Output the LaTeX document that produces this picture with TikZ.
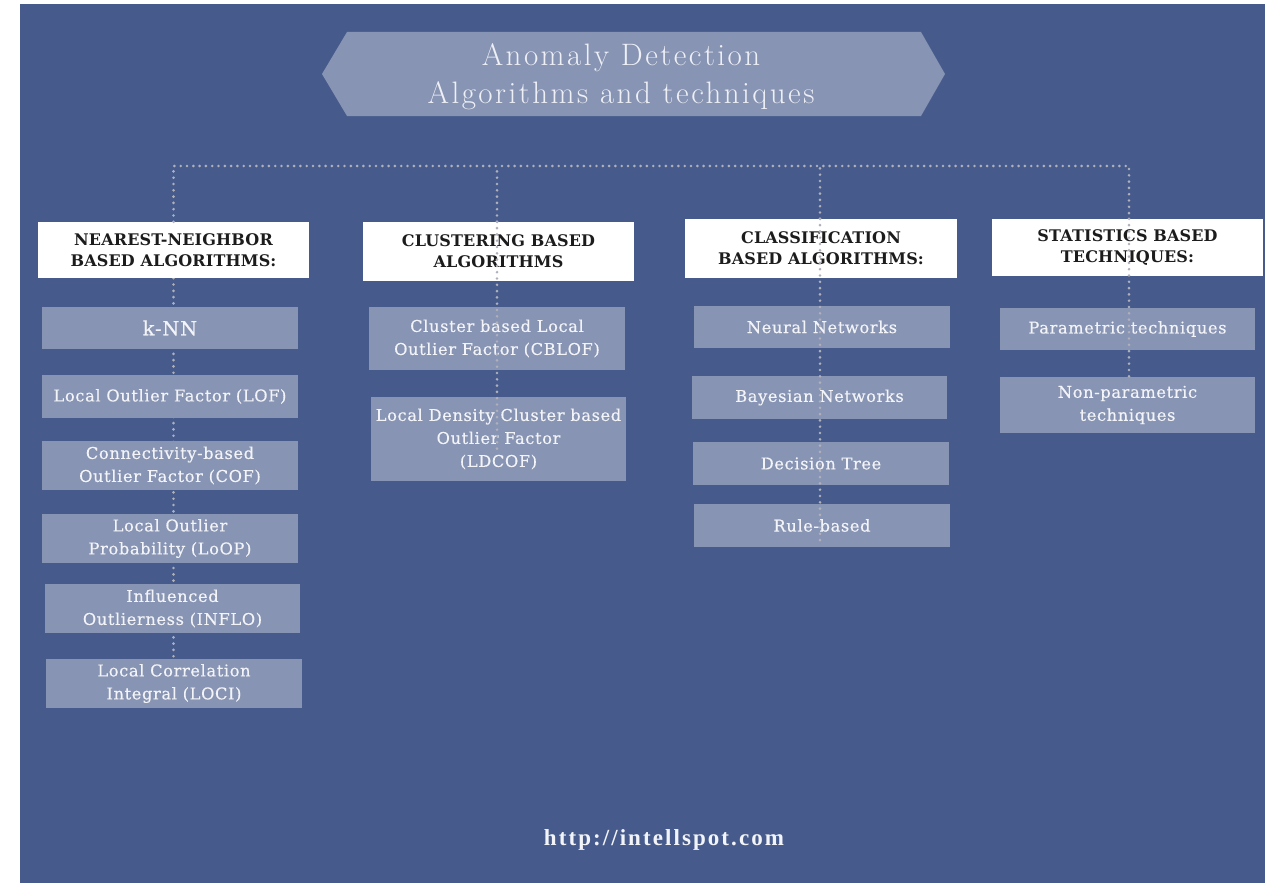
\documentclass[tikz,border=0pt]{standalone}
\usepackage{fontspec}
\usetikzlibrary{backgrounds}
\newfontfamily\titlefont[LetterSpace=8]{Latin Modern Roman}
\newfontfamily\boxfont[LetterSpace=4,FakeBold=0.4]{DejaVu Serif}
\newfontfamily\headfont[LetterSpace=1]{DejaVu Serif}
\newfontfamily\urlfont[LetterSpace=9]{Liberation Serif}
\definecolor{panel}{HTML}{465B8C}
\definecolor{lightbox}{HTML}{8794B3}
\definecolor{dotc}{HTML}{AFB0BA}
\definecolor{boxtext}{HTML}{F3F4F8}
\definecolor{headtext}{HTML}{1C1C1C}
\definecolor{titletext}{HTML}{EEF0F6}
\tikzset{
  hdr/.style={fill=white, inner sep=0pt, align=center, text=headtext,
    font=\headfont\bfseries\fontsize{16}{21}\selectfont},
  item/.style={fill=lightbox, inner sep=0pt, align=center, text=boxtext,
    font=\boxfont\fontsize{16.2}{23}\selectfont},
  dotline/.style={draw=dotc, line width=2.9pt, line cap=round,
    dash pattern=on 0pt off 6.3pt},
}
\begin{document}
\begin{tikzpicture}[x=1pt,y=-1pt]
\useasboundingbox (0,0) rectangle (1265,883);
\begin{scope}[on background layer]
\fill[white] (0,0) rectangle (1265,883);
\fill[panel] (20,4) rectangle (1265,883);
\end{scope}
% title
\fill[lightbox] (322,74) -- (347,32) -- (921,32) -- (945,74) -- (921,116) -- (347,116) -- cycle;
\node[text=titletext, align=center, font=\titlefont\fontsize{31}{38}\selectfont] (title) at (621,77)
  {Anomaly Detection\\Algorithms and techniques};
% headers
\node[hdr, minimum width=271, minimum height=56] (nnh) at (173.5,250) {NEAREST-NEIGHBOR\\BASED ALGORITHMS:};
\node[hdr, minimum width=271, minimum height=59] (clh) at (498.5,251.5) {CLUSTERING BASED\\ALGORITHMS};
\node[hdr, minimum width=272, minimum height=59] (cah) at (821,248.5) {CLASSIFICATION\\BASED ALGORITHMS:};
\node[hdr, minimum width=271, minimum height=57] (sth) at (1127.5,247.5) {STATISTICS BASED\\TECHNIQUES:};
% nearest neighbor
\node[item, minimum width=256, minimum height=42, font=\boxfont\fontsize{19.5}{23}\selectfont] (knn) at (170,328) {k-NN};
\node[item, minimum width=256, minimum height=43] (lof) at (170,396.5) {Local Outlier Factor (LOF)};
\node[item, minimum width=256, minimum height=49] (cof) at (170,465.5) {Connectivity-based\\Outlier Factor (COF)};
\node[item, minimum width=256, minimum height=49] (loop) at (170,538.5) {Local Outlier\\Probability (LoOP)};
\node[item, minimum width=255, minimum height=49] (inflo) at (172.5,608.5) {Influenced\\Outlierness (INFLO)};
\node[item, minimum width=256, minimum height=49] (loci) at (174,683.5) {Local Correlation\\Integral (LOCI)};
% clustering
\node[item, minimum width=256, minimum height=63] (cblof) at (497,338.5) {Cluster based Local\\Outlier Factor (CBLOF)};
\node[item, minimum width=255, minimum height=84] (ldcof) at (498.5,439) {Local Density Cluster based\\Outlier Factor\\(LDCOF)};
% classification
\node[item, minimum width=256, minimum height=42] (nn) at (822,327) {Neural Networks};
\node[item, minimum width=255, minimum height=43] (bn) at (819.5,397.5) {Bayesian Networks};
\node[item, minimum width=256, minimum height=43] (dt) at (821,463.5) {Decision Tree};
\node[item, minimum width=256, minimum height=43] (rb) at (822,525.5) {Rule-based};
% statistics
\node[item, minimum width=255, minimum height=42] (par) at (1127.5,329) {Parametric techniques};
\node[item, minimum width=255, minimum height=56] (npar) at (1127.5,405) {Non-parametric\\techniques};
% url
\node[text=boxtext, font=\urlfont\bfseries\fontsize{23}{28}\selectfont] (url) at (664,840) {http://intellspot.com};
% connectors
\coordinate (nntop) at (173.5,166);
\coordinate (sttop) at (1129,166);
\coordinate (clend) at (497,452);
\coordinate (caend) at (820,545);
\path[dotline] (nnh.north) -- (nntop) -- (sttop) -- (sth.north -| sttop);
\path[dotline] (clh.north -| clend) -- (clend |- nntop);
\path[dotline] (cah.north -| caend) -- (caend |- nntop);
\begin{scope}[on background layer]
\path[dotline] (nnh.south) -- (nnh.south |- loci.north);
\end{scope}
\path[dotline] (clh.north -| clend) -- (clend);
\path[dotline] (cah.north -| caend) -- (caend);
\path[dotline] (sth.north -| sttop) -- (sttop |- npar.north);
\end{tikzpicture}
\end{document}
